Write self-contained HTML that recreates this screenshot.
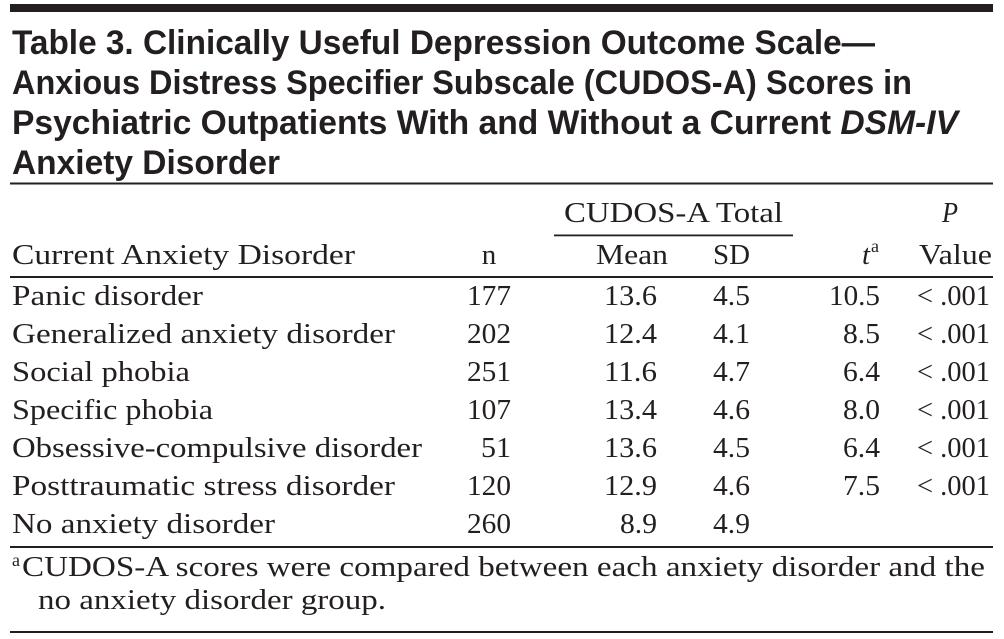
<!DOCTYPE html>
<html>
<head>
<meta charset="utf-8">
<style>
html,body{margin:0;padding:0;background:#fff;width:1004px;height:639px;overflow:hidden;}
svg{display:block;}
</style>
</head>
<body>
<svg width="1004" height="639" viewBox="0 0 1004 639" xmlns="http://www.w3.org/2000/svg">
<rect width="1004" height="639" fill="#ffffff"/>
<rect x="10" y="4" width="983" height="8" fill="#231f20"/>

<g font-family="'Liberation Sans', sans-serif" font-weight="bold" font-size="34" fill="#231f20">
<text x="12" y="54" textLength="863" lengthAdjust="spacingAndGlyphs">Table 3. Clinically Useful Depression Outcome Scale—</text>
<text x="12" y="94" textLength="900" lengthAdjust="spacingAndGlyphs">Anxious Distress Specifier Subscale (CUDOS-A) Scores in</text>
<text x="12" y="134" textLength="946" lengthAdjust="spacingAndGlyphs">Psychiatric Outpatients With and Without a Current <tspan font-style="italic">DSM-IV</tspan></text>
<text x="12" y="174" textLength="268" lengthAdjust="spacingAndGlyphs">Anxiety Disorder</text>
</g>

<rect x="10" y="182.5" width="983" height="2" fill="#231f20"/>

<g font-family="'Liberation Serif', serif" font-size="29" fill="#231f20">
<!-- header -->
<text x="564" y="222" textLength="219" lengthAdjust="spacingAndGlyphs">CUDOS-A Total</text>
<text x="942" y="222" font-style="italic" textLength="16" lengthAdjust="spacingAndGlyphs">P</text>
<rect x="554" y="234.5" width="239" height="1.8" fill="#231f20"/>

<text x="12" y="264" textLength="343" lengthAdjust="spacingAndGlyphs">Current Anxiety Disorder</text>
<text x="489" y="264" text-anchor="middle">n</text>
<text x="596" y="264" textLength="72" lengthAdjust="spacingAndGlyphs">Mean</text>
<text x="713" y="264" textLength="37" lengthAdjust="spacingAndGlyphs">SD</text>
<text x="862" y="264" font-style="italic">t</text>
<text x="871" y="252" font-size="18">a</text>
<text x="919" y="264" textLength="73" lengthAdjust="spacingAndGlyphs">Value</text>
</g>

<rect x="10" y="276" width="983" height="2" fill="#231f20"/>

<g font-family="'Liberation Serif', serif" font-size="29" fill="#231f20">
<!-- row 1 -->
<text x="12" y="305" textLength="191" lengthAdjust="spacingAndGlyphs">Panic disorder</text>
<text x="467" y="305" textLength="44" lengthAdjust="spacingAndGlyphs">177</text>
<text x="604" y="305" textLength="53" lengthAdjust="spacingAndGlyphs">13.6</text>
<text x="713" y="305" textLength="37" lengthAdjust="spacingAndGlyphs">4.5</text>
<text x="829" y="305" textLength="51" lengthAdjust="spacingAndGlyphs">10.5</text>
<text x="917" y="305" textLength="73" lengthAdjust="spacingAndGlyphs">&lt; .001</text>
<!-- row 2 -->
<text x="12" y="343" textLength="383" lengthAdjust="spacingAndGlyphs">Generalized anxiety disorder</text>
<text x="467" y="343" textLength="44" lengthAdjust="spacingAndGlyphs">202</text>
<text x="604" y="343" textLength="53" lengthAdjust="spacingAndGlyphs">12.4</text>
<text x="713" y="343" textLength="37" lengthAdjust="spacingAndGlyphs">4.1</text>
<text x="843" y="343" textLength="37" lengthAdjust="spacingAndGlyphs">8.5</text>
<text x="917" y="343" textLength="73" lengthAdjust="spacingAndGlyphs">&lt; .001</text>
<!-- row 3 -->
<text x="12" y="381" textLength="178" lengthAdjust="spacingAndGlyphs">Social phobia</text>
<text x="467" y="381" textLength="44" lengthAdjust="spacingAndGlyphs">251</text>
<text x="604" y="381" textLength="53" lengthAdjust="spacingAndGlyphs">11.6</text>
<text x="713" y="381" textLength="37" lengthAdjust="spacingAndGlyphs">4.7</text>
<text x="843" y="381" textLength="37" lengthAdjust="spacingAndGlyphs">6.4</text>
<text x="917" y="381" textLength="73" lengthAdjust="spacingAndGlyphs">&lt; .001</text>
<!-- row 4 -->
<text x="12" y="419" textLength="201" lengthAdjust="spacingAndGlyphs">Specific phobia</text>
<text x="467" y="419" textLength="44" lengthAdjust="spacingAndGlyphs">107</text>
<text x="604" y="419" textLength="53" lengthAdjust="spacingAndGlyphs">13.4</text>
<text x="713" y="419" textLength="37" lengthAdjust="spacingAndGlyphs">4.6</text>
<text x="843" y="419" textLength="37" lengthAdjust="spacingAndGlyphs">8.0</text>
<text x="917" y="419" textLength="73" lengthAdjust="spacingAndGlyphs">&lt; .001</text>
<!-- row 5 -->
<text x="12" y="457" textLength="410" lengthAdjust="spacingAndGlyphs">Obsessive-compulsive disorder</text>
<text x="481" y="457" textLength="30" lengthAdjust="spacingAndGlyphs">51</text>
<text x="604" y="457" textLength="53" lengthAdjust="spacingAndGlyphs">13.6</text>
<text x="713" y="457" textLength="37" lengthAdjust="spacingAndGlyphs">4.5</text>
<text x="843" y="457" textLength="37" lengthAdjust="spacingAndGlyphs">6.4</text>
<text x="917" y="457" textLength="73" lengthAdjust="spacingAndGlyphs">&lt; .001</text>
<!-- row 6 -->
<text x="12" y="495" textLength="383" lengthAdjust="spacingAndGlyphs">Posttraumatic stress disorder</text>
<text x="467" y="495" textLength="44" lengthAdjust="spacingAndGlyphs">120</text>
<text x="604" y="495" textLength="53" lengthAdjust="spacingAndGlyphs">12.9</text>
<text x="713" y="495" textLength="37" lengthAdjust="spacingAndGlyphs">4.6</text>
<text x="843" y="495" textLength="37" lengthAdjust="spacingAndGlyphs">7.5</text>
<text x="917" y="495" textLength="73" lengthAdjust="spacingAndGlyphs">&lt; .001</text>
<!-- row 7 -->
<text x="12" y="533" textLength="263" lengthAdjust="spacingAndGlyphs">No anxiety disorder</text>
<text x="467" y="533" textLength="44" lengthAdjust="spacingAndGlyphs">260</text>
<text x="620" y="533" textLength="37" lengthAdjust="spacingAndGlyphs">8.9</text>
<text x="713" y="533" textLength="37" lengthAdjust="spacingAndGlyphs">4.9</text>
</g>

<rect x="10" y="546" width="983" height="2" fill="#231f20"/>

<g font-family="'Liberation Serif', serif" font-size="29" fill="#231f20">
<text x="12" y="566" font-size="18">a</text>
<text x="22" y="576" textLength="963" lengthAdjust="spacingAndGlyphs">CUDOS-A scores were compared between each anxiety disorder and the</text>
<text x="38" y="609" textLength="348" lengthAdjust="spacingAndGlyphs">no anxiety disorder group.</text>
</g>

<rect x="10" y="631" width="983" height="2" fill="#231f20"/>
</svg>
</body>
</html>
